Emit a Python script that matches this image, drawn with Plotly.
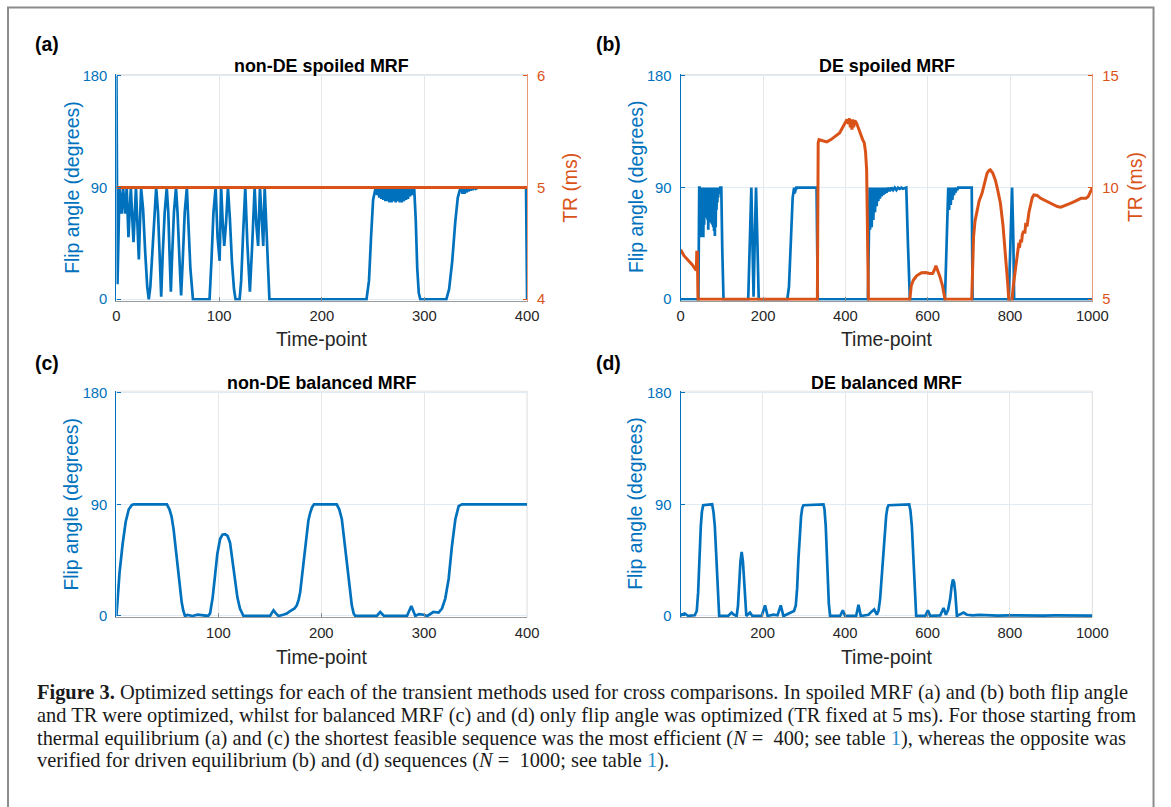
import plotly.graph_objects as go

W, H = 1171, 807
BLUE = "#0072BD"
ORANGE = "#D95319"

# ---------------- data ----------------
# (a) non-DE spoiled MRF : flip angle (deg) vs time-point
a_t = [0, 1, 3, 5, 6.5, 8.4, 10, 11.7, 14, 16.6,
       19, 21.8, 24, 26, 28, 30, 31.5, 33, 35, 37,
       38.7, 40.5, 42, 43.6, 45, 47, 49, 50.5, 52, 53,
       54, 56, 58, 59.5, 61.5, 63, 64.5, 66.5, 68.6, 70,
       72, 74.5, 90.7, 92.5, 94.5, 96.6, 98.5, 100.5, 102, 103.5,
       105, 106.8, 108.6, 110.5, 112.5, 114.5, 116, 120, 121.5, 123.5,
       125.5, 127.5, 130, 132.3, 134.6, 136.3, 138, 139.8, 141.4, 143,
       144.4, 146, 147.5, 149, 243.6, 246, 248, 250, 252, 253,
       254, 255, 256, 257, 258, 259, 260, 261, 262, 263,
       264, 265, 266, 267, 268, 269, 270, 271, 272, 273,
       274, 275, 276, 277, 278, 279, 280, 281, 282, 283,
       284, 285, 286, 287, 288, 289, 290, 291.5, 293, 294.5,
       296, 321.4, 324, 327, 330, 332.5, 334.5, 336, 337, 338,
       339, 340, 341, 342, 343, 344, 345, 346, 347, 348,
       350, 352, 354, 370, 385, 399, 400]
a_flip = [180, 12, 90, 69, 90, 69, 90, 50, 90, 46,
          90, 32, 90, 72, 38, 10, 0, 10, 38, 72,
          90, 70, 35, 2, 35, 70, 90, 70, 30, 6,
          30, 70, 90, 70, 30, 3, 30, 70, 90, 65,
          25, 0, 0, 30, 70, 90, 50, 31, 90, 62,
          43, 62, 90, 65, 30, 8, 0, 0, 15, 55,
          90, 45, 6, 45, 90, 60, 43, 90, 60, 43,
          90, 60, 20, 0, 0, 15, 50, 80, 88, 90,
          84, 90, 82, 90, 81, 90, 80, 90, 79, 90,
          79, 90, 78, 90, 78, 90, 79, 90, 78, 90,
          79, 90, 78, 90, 78, 90, 79, 90, 80, 90,
          81, 90, 83, 90, 84, 90, 90, 65, 25, 5,
          0, 0, 8, 30, 62, 82, 88, 90, 85, 90,
          85, 90, 86, 90, 87, 90, 87.5, 90, 88, 90,
          89, 90, 90, 90, 89.8, 90, 0]
a_tr_t = [0, 400]
a_tr = [5, 5]

# (b) DE spoiled MRF
b_t = [0, 43, 45, 46, 47, 48, 49, 50, 51, 52,
       53, 54, 55, 56, 57, 58, 59, 60, 61, 62,
       63, 64, 65, 66, 67, 68, 69, 70, 71, 72,
       73, 74, 75, 76, 77, 78, 79, 80, 81, 82,
       83, 84, 85, 86, 87, 88, 89, 90, 91, 92,
       93, 94, 95, 96, 97, 98.6, 101, 104, 164, 168,
       171.6, 174, 177, 180, 183, 186, 189.5, 259, 263, 268,
       272, 275.5, 276, 277, 278, 279, 280, 281, 330, 331.5,
       333, 454.8, 457, 459, 460, 462, 464, 466, 468, 470,
       472, 474, 476, 478, 480, 482, 484, 486, 488, 490,
       492, 494, 496, 498, 500, 504, 508, 512, 516, 520,
       524, 528, 532, 536, 540, 548, 552, 556.7, 642, 646,
       650, 652, 654, 656, 658, 660, 662, 664, 666, 668,
       670, 672, 674, 676, 707, 708, 709, 797, 801, 805,
       808, 810, 1000]
b_flip = [0, 0, 90, 90, 50, 90, 52, 90, 50, 90,
          55, 90, 50, 90, 60, 90, 66, 90, 70, 90,
          73, 90, 64, 90, 56, 90, 62, 90, 72, 90,
          65, 90, 61, 90, 60, 90, 58, 90, 55, 90,
          51, 90, 58, 90, 72, 90, 78, 90, 82, 90,
          85, 90, 88, 90, 90, 90, 40, 0, 0, 50,
          90, 50, 2, 50, 90, 50, 0, 0, 10, 50,
          82, 90, 85, 90, 86, 90, 88, 90, 90, 45,
          0, 0, 50, 90, 56, 90, 58, 90, 64, 90,
          70, 90, 75, 90, 79, 90, 81, 90, 83, 90,
          84, 90, 85, 90, 86, 90, 87, 90, 88, 90,
          88, 90, 89, 90, 89, 90, 45, 0, 0, 50,
          90, 72, 90, 76, 90, 80, 90, 84, 90, 86,
          90, 88, 90, 90, 90, 45, 0, 0, 50, 90,
          50, 0, 0]
b_tr_t = [0, 8, 18, 28, 36, 38, 39, 40.5, 42, 332,
          334, 336, 345, 355, 365, 377, 386, 393.6, 400, 404,
          407, 410, 412, 414, 416, 418, 420, 423, 427, 430,
          434, 438, 442, 446, 449, 451.7, 454, 456, 556.7, 560,
          565, 573, 585, 595, 605, 612, 616, 620, 624, 630,
          636, 642, 707, 709, 711.5, 715, 719.6, 725, 732, 738,
          744, 748, 752, 758, 764.5, 770, 776.7, 783, 789, 794,
          797, 805, 808, 811, 815, 817.5, 821.5, 823, 825.6, 828,
          830, 833, 836, 838, 841.9, 846, 850, 854, 858, 866,
          874.5, 882, 890.8, 899, 907, 915, 923.4, 930, 935.6, 945,
          956, 965, 972.4, 984.5, 990, 995, 1000]
b_tr = [7.22, 6.95, 6.75, 6.55, 6.33, 6.3, 7.1, 7.1, 5, 5,
        12.0, 12.15, 12.1, 12.05, 12.15, 12.3, 12.45, 12.7, 12.95, 13.05,
        12.85, 13.1, 12.7, 13.05, 12.6, 13.05, 12.7, 13.0, 12.9, 12.75,
        12.5, 12.3, 12.15, 12.0, 11.6, 10.8, 7.8, 5, 5, 5.6,
        5.85, 6.05, 6.19, 6.2, 6.15, 6.15, 6.3, 6.5, 6.3, 6.0,
        5.6, 5, 5, 6.5, 7.8, 8.5, 9.0, 9.4, 9.74, 10.2,
        10.63, 10.75, 10.8, 10.65, 10.33, 9.9, 9.3, 8.3, 7.07, 5.8,
        5, 5, 5.6, 6.04, 6.6, 6.93, 7.52, 7.3, 7.67, 7.55,
        7.9, 8.05, 7.95, 8.35, 8.33, 8.9, 9.3, 9.55, 9.67, 9.65,
        9.52, 9.45, 9.37, 9.3, 9.22, 9.15, 9.12, 9.18, 9.2, 9.28,
        9.37, 9.45, 9.52, 9.52, 9.6, 9.8, 10.0]

# (c) non-DE balanced MRF
c_t = [1, 4, 7, 10, 13, 16, 18, 30, 45, 50,
       52.5, 54.6, 56.5, 58, 61, 64.4, 66, 67.6, 70, 75,
       80, 85, 90, 92, 94.5, 96.8, 99, 101.7, 104, 106.5,
       109, 111.4, 113.5, 116, 118.5, 121, 124.4, 135, 150.3, 152,
       153.6, 155.5, 158.4, 163, 166.5, 169, 171.4, 174, 176.2, 178,
       179.5, 181, 182.7, 184.5, 186, 187.5, 189.2, 191, 193, 215,
       217.5, 220, 223, 226.5, 229.7, 231.5, 233, 254, 257.3, 261,
       283.3, 287.5, 291.4, 295, 299.5, 303, 309, 314, 317.3, 320.5,
       323.8, 327, 330.3, 333.5, 336.7, 350, 365, 380, 400]
c_flip = [0, 35, 58, 76, 86, 89.5, 90, 90, 90, 90,
          86, 80, 70, 59, 35, 11, 4, 0, 0.8, 0,
          1, 0.5, 0, 2, 15, 32.5, 50, 62, 65.5, 66,
          64.5, 59, 47, 30, 15, 6, 0, 0, 0, 2.5,
          4.5, 2.5, 0, 1, 2, 3.5, 4.5, 6, 8.5, 13,
          19, 29, 40.5, 54, 67, 77, 83, 87.5, 90, 90,
          86, 78, 56.5, 30, 8.5, 2, 0, 0, 3.2, 0,
          0, 8, 0, 1.5, 1, 0, 3.2, 2.7, 6, 14,
          30, 56.5, 78, 88.5, 90, 90, 89.7, 90, 90]

# (d) DE balanced MRF
d_t = [1, 2.8, 10.9, 19, 35, 40, 43.3, 46.5, 49.8, 52.5,
       55.5, 77.3, 80.5, 83.8, 86.5, 89.5, 92, 94.4, 116, 124.5,
       130, 136.8, 140, 143.3, 146, 149, 152, 154.7, 157.5, 160.3,
       169.2, 175, 197.6, 205.7, 212, 226, 236, 243.8, 250.3, 270.5,
       276, 280.3, 283.5, 286.7, 290, 293.2, 296, 298.9, 347.4, 350,
       353, 355.5, 357.9, 360.5, 363.6, 387.9, 394.4, 400, 426.8, 432.5,
       438, 456.7, 464.8, 470.5, 477, 481, 485, 489, 493.1, 496.5,
       499.6, 502.5, 505.3, 555.5, 558.5, 562, 565, 567.6, 570, 572.5,
       594.4, 600.9, 606.5, 630.8, 639, 644.6, 650, 655.1, 658.5, 661.6,
       664.5, 667.3, 671.3, 687.5, 695.6, 710, 725.9, 746, 770, 800,
       830, 850, 880, 910, 940, 970, 1000]
d_flip = [0, 1, 2, 0, 0.5, 4, 19, 48, 72.5, 84,
          89.3, 90, 84, 72.5, 52, 30, 10, 0, 0, 2.7,
          1, 0, 8, 30, 44, 51.7, 44, 30, 10, 0,
          2.7, 0, 0, 8.5, 0, 1, 0.5, 8.5, 0, 3.2,
          4, 8.5, 22, 46, 66, 80.5, 87, 89.3, 90, 86,
          72.5, 52, 30, 10, 0, 0, 4.5, 0, 0, 9,
          0, 1, 3.7, 5.3, 1, 4, 14, 32, 54, 70,
          80.5, 87, 89.3, 90, 85, 72.5, 50, 30, 10, 0,
          0, 4.5, 0, 0.5, 6.4, 1, 5, 14, 24, 29.3,
          27, 19, 0, 2.7, 1, 0.5, 0.8, 0.5, 0.3, 0.5,
          0.3, 0.6, 0.3, 0.4, 0.2, 0.5, 0.3]

for xs, ys in [(a_t, a_flip), (b_t, b_flip), (b_tr_t, b_tr), (c_t, c_flip), (d_t, d_flip)]:
    assert len(xs) == len(ys), (len(xs), len(ys))

panel_titles = ["non-DE spoiled MRF", "DE spoiled MRF", "non-DE balanced MRF", "DE balanced MRF"]
panel_letters = ["(a)", "(b)", "(c)", "(d)"]
caption_lines = [
    "<b>Figure 3.</b> Optimized settings for each of the transient methods used for cross comparisons. In spoiled MRF (a) and (b) both flip angle",
    "and TR were optimized, whilst for balanced MRF (c) and (d) only flip angle was optimized (TR fixed at 5 ms). For those starting from",
    "thermal equilibrium (a) and (c) the shortest feasible sequence was the most efficient (<i>N</i> =  400; see table <span style='color:#2b8fc9'>1</span>), whereas the opposite was",
    "verified for driven equilibrium (b) and (d) sequences (<i>N</i> =  1000; see table <span style='color:#2b8fc9'>1</span>).",
]

# ---------------- geometry ----------------
# the photographed page comes out slightly shrunk (~2%) and offset; targets below are picture
# pixels and are mapped back to page pixels.
AX_S, CX_S = 0.979, 5.0
AY_S, CY_S = 0.9785, 6.9
FS = 1 / 0.979  # font compensation


def px(x):  # picture pixel -> paper fraction
    return ((x - CX_S) / AX_S) / W


def py(y):
    return 1 - ((y - CY_S) / AY_S) / H


X_L = [px(117), px(526)]
X_R = [px(679), px(1089)]
Y_T = [py(300), py(75)]
Y_B = [py(615), py(390)]

SANS = "Liberation Sans, Arial, Helvetica, sans-serif"
AX_FONT = dict(family=SANS, size=14.5 * FS, color="#262626")
GRID_X = "#e6e6e6"
GRID_Y = "#e2ebf3"
PAD = 1.2  # small pad so lines lying on 0 keep their full width
FLIP_RANGE = [-PAD, 180 + PAD]

fig = go.Figure()
LW = 2.7
fig.add_trace(go.Scatter(x=a_t, y=a_flip, mode="lines", line=dict(color=BLUE, width=LW), xaxis="x", yaxis="y"))
fig.add_trace(go.Scatter(x=a_tr_t, y=a_tr, mode="lines", line=dict(color=ORANGE, width=3), xaxis="x", yaxis="y5"))
fig.add_trace(go.Scatter(x=b_t, y=b_flip, mode="lines", line=dict(color=BLUE, width=LW), xaxis="x2", yaxis="y2"))
fig.add_trace(go.Scatter(x=b_tr_t, y=b_tr, mode="lines", line=dict(color=ORANGE, width=3), xaxis="x2", yaxis="y6"))
fig.add_trace(go.Scatter(x=c_t, y=c_flip, mode="lines", line=dict(color=BLUE, width=LW), xaxis="x3", yaxis="y3"))
fig.add_trace(go.Scatter(x=d_t, y=d_flip, mode="lines", line=dict(color=BLUE, width=LW), xaxis="x4", yaxis="y4"))


def xax(domain, anchor, rng, tickvals):
    return dict(domain=domain, anchor=anchor, range=rng, tickvals=tickvals, ticks="inside", ticklen=4,
                tickcolor="#8a8a8a", showline=True, linecolor="#9a9a9a", linewidth=1, mirror=False,
                showgrid=True, gridcolor=GRID_X, gridwidth=1, zeroline=False, tickfont=AX_FONT,
                ticklabelstandoff=2)


def yax(domain, anchor):
    return dict(domain=domain, anchor=anchor, range=FLIP_RANGE, tickvals=[0, 90, 180], ticks="inside", ticklen=4,
                tickcolor=BLUE, showline=True, linecolor=BLUE, linewidth=1.3, showgrid=True,
                gridcolor=GRID_Y, zeroline=False, tickfont=dict(AX_FONT, color=BLUE), ticklabelstandoff=5)


def yright(overlay, anchor, lo, hi):
    k = (hi - lo) / 180.0
    return dict(overlaying=overlay, anchor=anchor, side="right", range=[lo - PAD * k, hi + PAD * k],
                tickvals=[lo, (lo + hi) / 2, hi], ticks="inside",
                ticklen=4, tickcolor=ORANGE, showline=True, linecolor="#e89a78", linewidth=1, showgrid=False,
                zeroline=False, tickfont=dict(AX_FONT, color=ORANGE), ticklabelstandoff=6)


fig.update_layout(
    width=W, height=H, margin=dict(l=0, r=0, t=0, b=0), autosize=False,
    paper_bgcolor="white", plot_bgcolor="white", showlegend=False,
    xaxis=xax(X_L, "y", [0, 400], [0, 100, 200, 300, 400]),
    yaxis=yax(Y_T, "x"),
    yaxis5=yright("y", "x", 4, 6),
    xaxis2=xax(X_R, "y2", [0, 1000], [0, 200, 400, 600, 800, 1000]),
    yaxis2=yax(Y_T, "x2"),
    yaxis6=yright("y2", "x2", 5, 15),
    xaxis3=xax(X_L, "y3", [1, 400], [100, 200, 300, 400]),
    yaxis3=yax(Y_B, "x3"),
    xaxis4=xax(X_R, "y4", [1, 1000], [200, 400, 600, 800, 1000]),
    yaxis4=yax(Y_B, "x4"),
)

shapes = []
for xr, yr in [("x", "y"), ("x2", "y2"), ("x3", "y3"), ("x4", "y4")]:
    shapes.append(dict(type="line", xref=f"{xr} domain", yref=f"{yr} domain", x0=0, x1=1, y0=1, y1=1,
                       line=dict(color="#e4e4e4", width=1), layer="below"))
for xr, yr in [("x3", "y3"), ("x4", "y4")]:
    shapes.append(dict(type="line", xref=f"{xr} domain", yref=f"{yr} domain", x0=1, x1=1, y0=0, y1=1,
                       line=dict(color="#dcdcdc", width=1), layer="below"))
# outer frame of the figure panel
shapes.append(dict(type="rect", xref="paper", yref="paper", x0=max(px(9), 1.5 / W), x1=min(px(1165), 1 - 1.5 / W),
                   y0=py(830), y1=min(py(6), 1 - 1.5 / H),
                   line=dict(color="#8c8c8c", width=2), fillcolor="rgba(0,0,0,0)"))
fig.update_layout(shapes=shapes)

ann = []
TITLE_FONT = dict(family=SANS, size=17.5 * FS, color="#000000")
LAB_FONT = dict(family=SANS, size=19 * FS, color="#262626")
centers_x = [(117 + 526) / 2, (679 + 1089) / 2, (117 + 526) / 2, (679 + 1089) / 2]
title_y = [67, 67, 382, 382]
letter_xy = [(47.5, 45), (607.5, 45), (47.5, 362), (607.5, 362)]
for i in range(4):
    ann.append(dict(x=px(centers_x[i]), y=py(title_y[i]), xref="paper", yref="paper", showarrow=False,
                    text=f"<b>{panel_titles[i]}</b>", font=TITLE_FONT, xanchor="center", yanchor="middle"))
    lx, ly = letter_xy[i]
    ann.append(dict(x=px(lx), y=py(ly), xref="paper", yref="paper", showarrow=False,
                    text=f"<b>{panel_letters[i]}</b>", font=dict(TITLE_FONT, size=19 * FS), xanchor="center",
                    yanchor="middle"))
for xc, yc in [(72, 187.5), (634, 187.5), (72, 502.5), (634, 502.5)]:
    ann.append(dict(x=px(xc), y=py(yc), xref="paper", yref="paper", showarrow=False, textangle=-90,
                    text="Flip angle (degrees)", font=dict(LAB_FONT, color=BLUE), xanchor="center",
                    yanchor="middle"))
for xc in (568, 1131):
    ann.append(dict(x=px(xc), y=py(187.5), xref="paper", yref="paper", showarrow=False, textangle=-90,
                    text="TR (ms)", font=dict(LAB_FONT, color=ORANGE), xanchor="center", yanchor="middle"))
for xc, yc in [(321.5, 338), (884, 338), (321.5, 654), (884, 654)]:
    ann.append(dict(x=px(xc), y=py(yc), xref="paper", yref="paper", showarrow=False,
                    text="Time-point", font=LAB_FONT, xanchor="center", yanchor="middle"))
for i, line in enumerate(caption_lines):
    ann.append(dict(x=px(36), y=py(690 + 22.5 * i), xref="paper", yref="paper", showarrow=False,
                    text=line, xanchor="left", yanchor="middle",
                    font=dict(family="Liberation Serif, Times New Roman, serif", size=20 * FS, color="#1a1a1a")))
fig.update_layout(annotations=ann)

page_fix = ("document.documentElement.style.margin='0';document.body.style.margin='0';"
            "document.documentElement.style.overflow='hidden';document.body.style.overflow='hidden';")
fig.write_html("out.html", post_script=page_fix, config={"displayModeBar": False})
